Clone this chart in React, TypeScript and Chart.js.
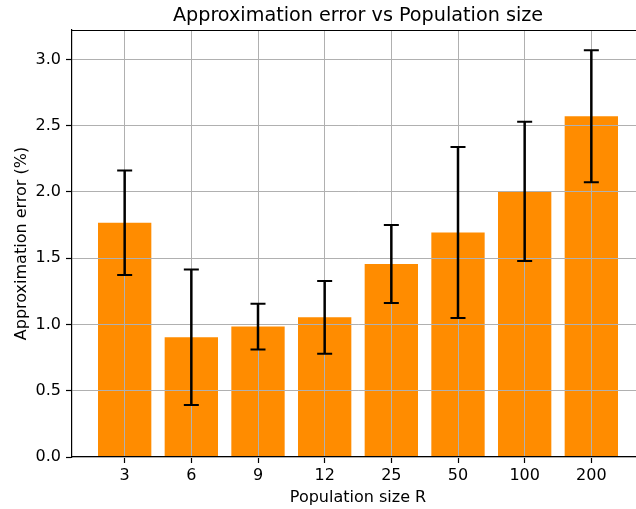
import React, { useEffect, useRef } from "react";
import { Chart, registerables } from "chart.js";

Chart.register(...registerables);

// Population sizes (x categories), mean approximation error (%) and its spread
const populationSizes = ["3", "6", "9", "12", "25", "50", "100", "200"];
const meanError = [1.768, 0.904, 0.984, 1.054, 1.456, 1.694, 2.005, 2.571];
const errorSpread = [0.394, 0.511, 0.172, 0.275, 0.294, 0.645, 0.525, 0.498];
const yTickValues = [0, 0.5, 1.0, 1.5, 2.0, 2.5, 3.0];

const chartTitle = "Approximation error vs Population size";
const xAxisTitle = "Population size R";
const yAxisTitle = "Approximation error (%)";

const FONT = "'DejaVu Sans', 'Liberation Sans', sans-serif";
const BAR_COLOR = "#ff8c00";
const GRID_COLOR = "#b0b0b0";
const TICK_FONT_SIZE = 16;
const TITLE_FONT_SIZE = 19.2;

// axis limits with 5% margins around bars (width 0.8) and error bars
const barWidth = 0.8;
const nBars = populationSizes.length;
const xSpan = nBars - 1 + barWidth;
const xMin = -barWidth / 2 - 0.05 * xSpan;
const xMax = nBars - 1 + barWidth / 2 + 0.05 * xSpan;
const yTop = Math.max(...meanError.map((m, i) => m + errorSpread[i]));
const yMax = yTop * 1.05;

const decorations = {
  id: "decorations",
  afterDraw(chart: any) {
    const { ctx, chartArea, scales } = chart;
    const xs = scales.x;
    const ys = scales.y;
    ctx.save();

    // error bars with caps
    ctx.strokeStyle = "#000";
    meanError.forEach((m, i) => {
      const px = xs.getPixelForValue(i);
      const hi = ys.getPixelForValue(m + errorSpread[i]);
      const lo = ys.getPixelForValue(m - errorSpread[i]);
      ctx.lineWidth = 2.5;
      ctx.beginPath();
      ctx.moveTo(px, hi);
      ctx.lineTo(px, lo);
      ctx.stroke();
      ctx.lineWidth = 2;
      ctx.beginPath();
      ctx.moveTo(px - 7.5, hi);
      ctx.lineTo(px + 7.5, hi);
      ctx.moveTo(px - 7.5, lo);
      ctx.lineTo(px + 7.5, lo);
      ctx.stroke();
    });

    // top and right spines
    ctx.lineWidth = 1.2;
    ctx.beginPath();
    ctx.moveTo(chartArea.left, chartArea.top + 0.5);
    ctx.lineTo(chartArea.right, chartArea.top + 0.5);
    ctx.moveTo(chartArea.right - 0.5, chartArea.top);
    ctx.lineTo(chartArea.right - 0.5, chartArea.bottom);
    ctx.stroke();

    // titles
    ctx.fillStyle = "#000";
    const cx = (chartArea.left + chartArea.right) / 2;
    ctx.textAlign = "center";
    ctx.textBaseline = "alphabetic";
    ctx.font = `${TITLE_FONT_SIZE}px ${FONT}`;
    ctx.fillText(chartTitle, cx, 21);
    ctx.font = `${TICK_FONT_SIZE}px ${FONT}`;
    ctx.fillText(xAxisTitle, cx, 502);
    ctx.translate(26, (chartArea.top + chartArea.bottom) / 2);
    ctx.rotate(-Math.PI / 2);
    ctx.fillText(yAxisTitle, 0, 0);
    ctx.restore();
  },
};

export default function App() {
  const canvasRef = useRef<HTMLCanvasElement | null>(null);

  useEffect(() => {
    if (!canvasRef.current) return;
    const chart = new Chart(canvasRef.current, {
      type: "bar",
      data: {
        datasets: [
          {
            data: meanError.map((y, i) => ({ x: i, y })),
            backgroundColor: BAR_COLOR,
            borderWidth: 0,
            barPercentage: barWidth,
            categoryPercentage: 1,
          },
        ],
      },
      options: {
        animation: false,
        responsive: true,
        maintainAspectRatio: false,
        layout: { padding: { top: 30, left: 0, right: 0, bottom: 0 } },
        plugins: {
          legend: { display: false },
          tooltip: { enabled: false },
          title: { display: false },
        },
        scales: {
          x: {
            type: "linear",
            min: xMin,
            max: xMax,
            offset: false,
            afterBuildTicks: (scale: any) => {
              scale.ticks = populationSizes.map((_, i) => ({ value: i }));
            },
            afterFit: (scale: any) => {
              scale.height = 52;
            },
            ticks: {
              color: "#000",
              font: { family: FONT, size: TICK_FONT_SIZE },
              padding: 3,
              maxRotation: 0,
              autoSkip: false,
              callback: (v: any) => populationSizes[Math.round(v)] ?? "",
            },
            grid: {
              color: GRID_COLOR,
              lineWidth: 1,
              offset: false,
              z: 1,
              drawTicks: true,
              tickLength: 6,
              tickColor: "#000",
              tickWidth: 1.2,
            },
            border: { display: true, color: "#000", width: 1.2, z: 1 },
          },
          y: {
            type: "linear",
            min: 0,
            max: yMax,
            afterBuildTicks: (scale: any) => {
              scale.ticks = yTickValues.map((v) => ({ value: v }));
            },
            afterFit: (scale: any) => {
              scale.width = 72;
            },
            ticks: {
              color: "#000",
              font: { family: FONT, size: TICK_FONT_SIZE },
              padding: 5,
              callback: (v: any) => Number(v).toFixed(1),
            },
            grid: {
              color: GRID_COLOR,
              lineWidth: 1,
              z: 1,
              drawTicks: true,
              tickLength: 6,
              tickColor: "#000",
              tickWidth: 1.2,
            },
            border: { display: true, color: "#000", width: 1.2, z: 1 },
          },
        },
      },
      plugins: [decorations],
    });
    return () => chart.destroy();
  }, []);

  return (
    <div
      style={{
        position: "fixed",
        left: 0,
        top: 0,
        width: 636,
        height: 509,
        overflow: "hidden",
        background: "#fff",
      }}
    >
      <div style={{ position: "relative", width: 644, height: 509 }}>
        <canvas ref={canvasRef} />
      </div>
    </div>
  );
}
